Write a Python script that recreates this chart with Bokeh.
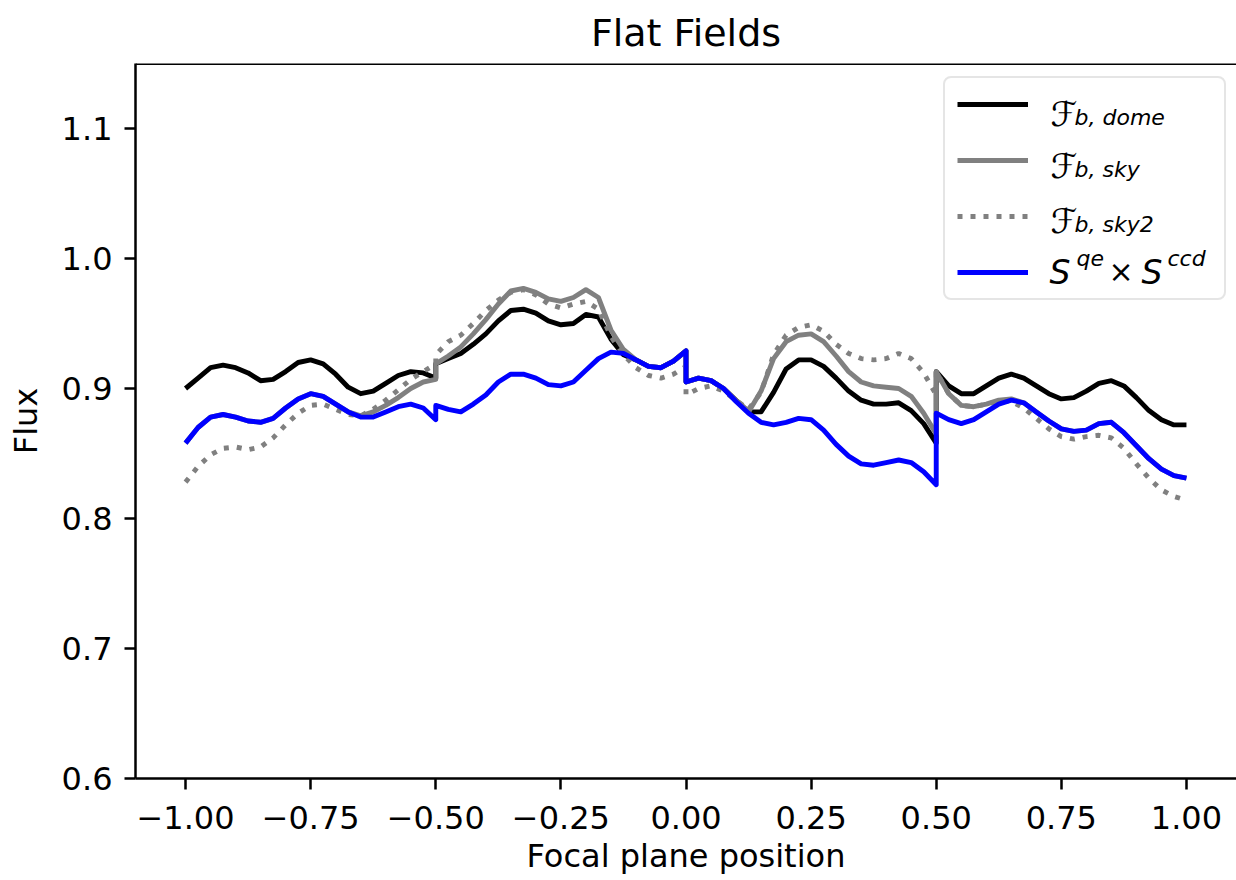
from bokeh.plotting import figure
from bokeh.models import Range1d, FixedTicker, Legend, LegendItem, Label, Span
from bokeh.embed import file_html
from bokeh.resources import INLINE

# ---------------- data ----------------
ccd_starts = [-1.0, -0.5, 0.0, 0.5]
ccd_offsets = [0.000, 0.025, 0.050, 0.075, 0.100, 0.125, 0.150, 0.175, 0.200, 0.225,
               0.250, 0.275, 0.300, 0.325, 0.350, 0.375, 0.400, 0.425, 0.450, 0.475, 0.500]

dome = [
    [0.900, 0.908, 0.916, 0.918, 0.916, 0.912, 0.906, 0.907, 0.913, 0.920, 0.922, 0.919, 0.911, 0.901, 0.896, 0.898, 0.904, 0.910, 0.913, 0.912, 0.908],
    [0.919, 0.923, 0.927, 0.934, 0.942, 0.952, 0.960, 0.961, 0.958, 0.952, 0.949, 0.950, 0.957, 0.955, 0.938, 0.926, 0.922, 0.917, 0.916, 0.921, 0.929],
    [0.905, 0.908, 0.906, 0.900, 0.891, 0.882, 0.882, 0.897, 0.915, 0.922, 0.922, 0.917, 0.908, 0.898, 0.891, 0.888, 0.888, 0.889, 0.883, 0.873, 0.858],
    [0.913, 0.902, 0.896, 0.896, 0.902, 0.908, 0.911, 0.908, 0.902, 0.896, 0.892, 0.893, 0.898, 0.904, 0.906, 0.902, 0.893, 0.883, 0.876, 0.872, 0.872],
]
sky = [
    [0.858, 0.870, 0.878, 0.880, 0.878, 0.875, 0.874, 0.877, 0.885, 0.892, 0.896, 0.894, 0.888, 0.882, 0.879, 0.882, 0.887, 0.893, 0.900, 0.905, 0.907],
    [0.919, 0.925, 0.932, 0.942, 0.953, 0.965, 0.975, 0.977, 0.974, 0.969, 0.967, 0.970, 0.976, 0.970, 0.945, 0.930, 0.922, 0.917, 0.916, 0.921, 0.929],
    [0.905, 0.908, 0.906, 0.900, 0.891, 0.882, 0.898, 0.923, 0.936, 0.941, 0.942, 0.936, 0.925, 0.913, 0.905, 0.902, 0.901, 0.900, 0.894, 0.881, 0.865],
    [0.913, 0.896, 0.887, 0.886, 0.888, 0.891, 0.892, 0.889, 0.882, 0.875, 0.869, 0.867, 0.868, 0.873, 0.874, 0.866, 0.856, 0.846, 0.838, 0.833, 0.831],
]
sky2 = [
    [0.828, 0.840, 0.849, 0.854, 0.855, 0.853, 0.855, 0.862, 0.872, 0.881, 0.887, 0.888, 0.884, 0.880, 0.879, 0.884, 0.891, 0.899, 0.907, 0.913, 0.919],
    [0.926, 0.936, 0.941, 0.950, 0.960, 0.968, 0.974, 0.976, 0.972, 0.965, 0.962, 0.965, 0.967, 0.961, 0.940, 0.926, 0.916, 0.910, 0.908, 0.911, 0.917],
    [0.895, 0.900, 0.902, 0.898, 0.891, 0.884, 0.897, 0.926, 0.941, 0.947, 0.949, 0.944, 0.934, 0.927, 0.923, 0.922, 0.923, 0.927, 0.923, 0.912, 0.895],
    [0.913, 0.896, 0.887, 0.886, 0.888, 0.890, 0.890, 0.885, 0.877, 0.869, 0.863, 0.861, 0.863, 0.864, 0.862, 0.854, 0.842, 0.831, 0.822, 0.817, 0.814],
]
qe_ccd = [
    [0.858, 0.870, 0.878, 0.880, 0.878, 0.875, 0.874, 0.877, 0.885, 0.892, 0.896, 0.894, 0.888, 0.882, 0.878, 0.878, 0.882, 0.886, 0.888, 0.885, 0.876],
    [0.887, 0.884, 0.882, 0.888, 0.895, 0.905, 0.911, 0.911, 0.908, 0.903, 0.902, 0.905, 0.914, 0.923, 0.928, 0.927, 0.922, 0.917, 0.916, 0.921, 0.929],
    [0.905, 0.908, 0.906, 0.900, 0.890, 0.881, 0.874, 0.872, 0.874, 0.877, 0.876, 0.868, 0.857, 0.848, 0.842, 0.841, 0.843, 0.845, 0.843, 0.836, 0.826],
    [0.881, 0.876, 0.873, 0.876, 0.882, 0.888, 0.891, 0.889, 0.882, 0.875, 0.869, 0.867, 0.868, 0.873, 0.874, 0.866, 0.856, 0.846, 0.838, 0.833, 0.831],
]

x_ticks = [-1.0, -0.75, -0.5, -0.25, 0.0, 0.25, 0.5, 0.75, 1.0]
x_tick_labels = ["\u22121.00", "\u22120.75", "\u22120.50", "\u22120.25", "0.00", "0.25", "0.50", "0.75", "1.00"]
y_ticks = [0.6, 0.7, 0.8, 0.9, 1.0, 1.1]
y_tick_labels = ["0.6", "0.7", "0.8", "0.9", "1.0", "1.1"]

# ---------------- layout constants ----------------
FONT = "DejaVu Sans"
FRAME_LEFT = 135.0    # page px
FRAME_BOTTOM = 778.0  # page px

x_vals = [s + o for s in ccd_starts for o in ccd_offsets]


def flat(parts):
    return [v for part in parts for v in part]


p = figure(width=1236, height=880,
           x_range=Range1d(-1.1, 1.1), y_range=Range1d(0.6, 1.15),
           output_backend="svg", toolbar_location=None,
           min_border_left=135, min_border_right=0, min_border_top=62, min_border_bottom=102,
           title="Flat Fields")
p.background_fill_color = "white"
p.border_fill_color = "white"
p.outline_line_color = None
p.xgrid.visible = False
p.ygrid.visible = False

p.title.text_font = FONT
p.title.text_font_size = "38px"
p.title.text_font_style = "normal"
p.title.text_color = "black"
p.title.align = "center"
p.title.offset = 0
p.title.standoff = 17

for ax in (p.xaxis[0], p.yaxis[0]):
    ax.axis_line_width = 2.5
    ax.axis_line_color = "black"
    ax.major_tick_line_width = 2.5
    ax.major_tick_out = 11
    ax.major_tick_in = 0
    ax.minor_tick_line_color = None
    ax.major_label_text_font = FONT
    ax.major_label_text_font_size = "32px"
    ax.major_label_text_color = "black"
    ax.axis_label_text_font = FONT
    ax.axis_label_text_font_size = "32px"
    ax.axis_label_text_font_style = "normal"
    ax.axis_label_text_color = "black"

p.xaxis.ticker = FixedTicker(ticks=x_ticks)
p.xaxis.major_label_overrides = dict(zip(x_ticks, x_tick_labels))
p.yaxis.ticker = FixedTicker(ticks=y_ticks)
p.yaxis.major_label_overrides = dict(zip(y_ticks, y_tick_labels))
p.xaxis.axis_label = "Focal plane position"
p.yaxis.axis_label = "Flux"
p.xaxis.major_label_standoff = 16
p.xaxis.axis_label_standoff = 5
p.yaxis.major_label_standoff = 12
p.yaxis.axis_label_standoff = 14

# top spine
p.add_layout(Span(location=1.15, dimension="width", line_color="black", line_width=3))

LW = 4.9
r_dome = p.line(x_vals, flat(dome), line_color="black", line_width=LW, line_join="round")
r_sky = p.line(x_vals, flat(sky), line_color="#808080", line_width=LW, line_join="round")
r_sky2 = p.line(x_vals, flat(sky2), line_color="#808080", line_width=LW, line_dash="5 8")
r_qe = p.line(x_vals, flat(qe_ccd), line_color="#0000ff", line_width=LW, line_join="round")

legend = Legend(items=[LegendItem(label=" ", renderers=[r]) for r in (r_dome, r_sky, r_sky2, r_qe)],
                location=(943 - FRAME_LEFT, FRAME_BOTTOM - 300),
                padding=12, spacing=28, margin=0,
                glyph_width=71, glyph_height=28, label_height=28, label_width=160,
                label_standoff=24, label_text_font_size="8px",
                border_line_color="#cccccc", border_line_width=2.5,
                background_fill_color="white", background_fill_alpha=0.0)
try:
    legend.border_radius = 8
except AttributeError:
    pass
p.add_layout(legend)


def lab(text, px, base, size, style="normal"):
    p.add_layout(Label(x=px - FRAME_LEFT, y=FRAME_BOTTOM - base, x_units="screen", y_units="screen",
                       text=text, text_font=FONT, text_font_size=size, text_font_style=style,
                       text_baseline="alphabetic", text_align="left", text_color="black",
                       level="overlay"))


# legend texts (math-like)
lab("\u2131", 1050, 113, "34px")
lab("b, dome", 1074, 117, "22px", "italic")
lab("\u2131", 1050, 165, "34px")
lab("b, sky", 1074, 169, "22px", "italic")
lab("\u2131", 1050, 220, "34px")
lab("b, sky2", 1074, 224, "22px", "italic")
lab("S", 1049, 272, "33px", "italic")
lab("qe", 1076, 258, "22px", "italic")
lab("\u00d7", 1108, 271, "30px")
lab("S", 1141, 272, "33px", "italic")
lab("ccd", 1167, 258, "22px", "italic")

open("out.html", "w").write(file_html(p, INLINE))
